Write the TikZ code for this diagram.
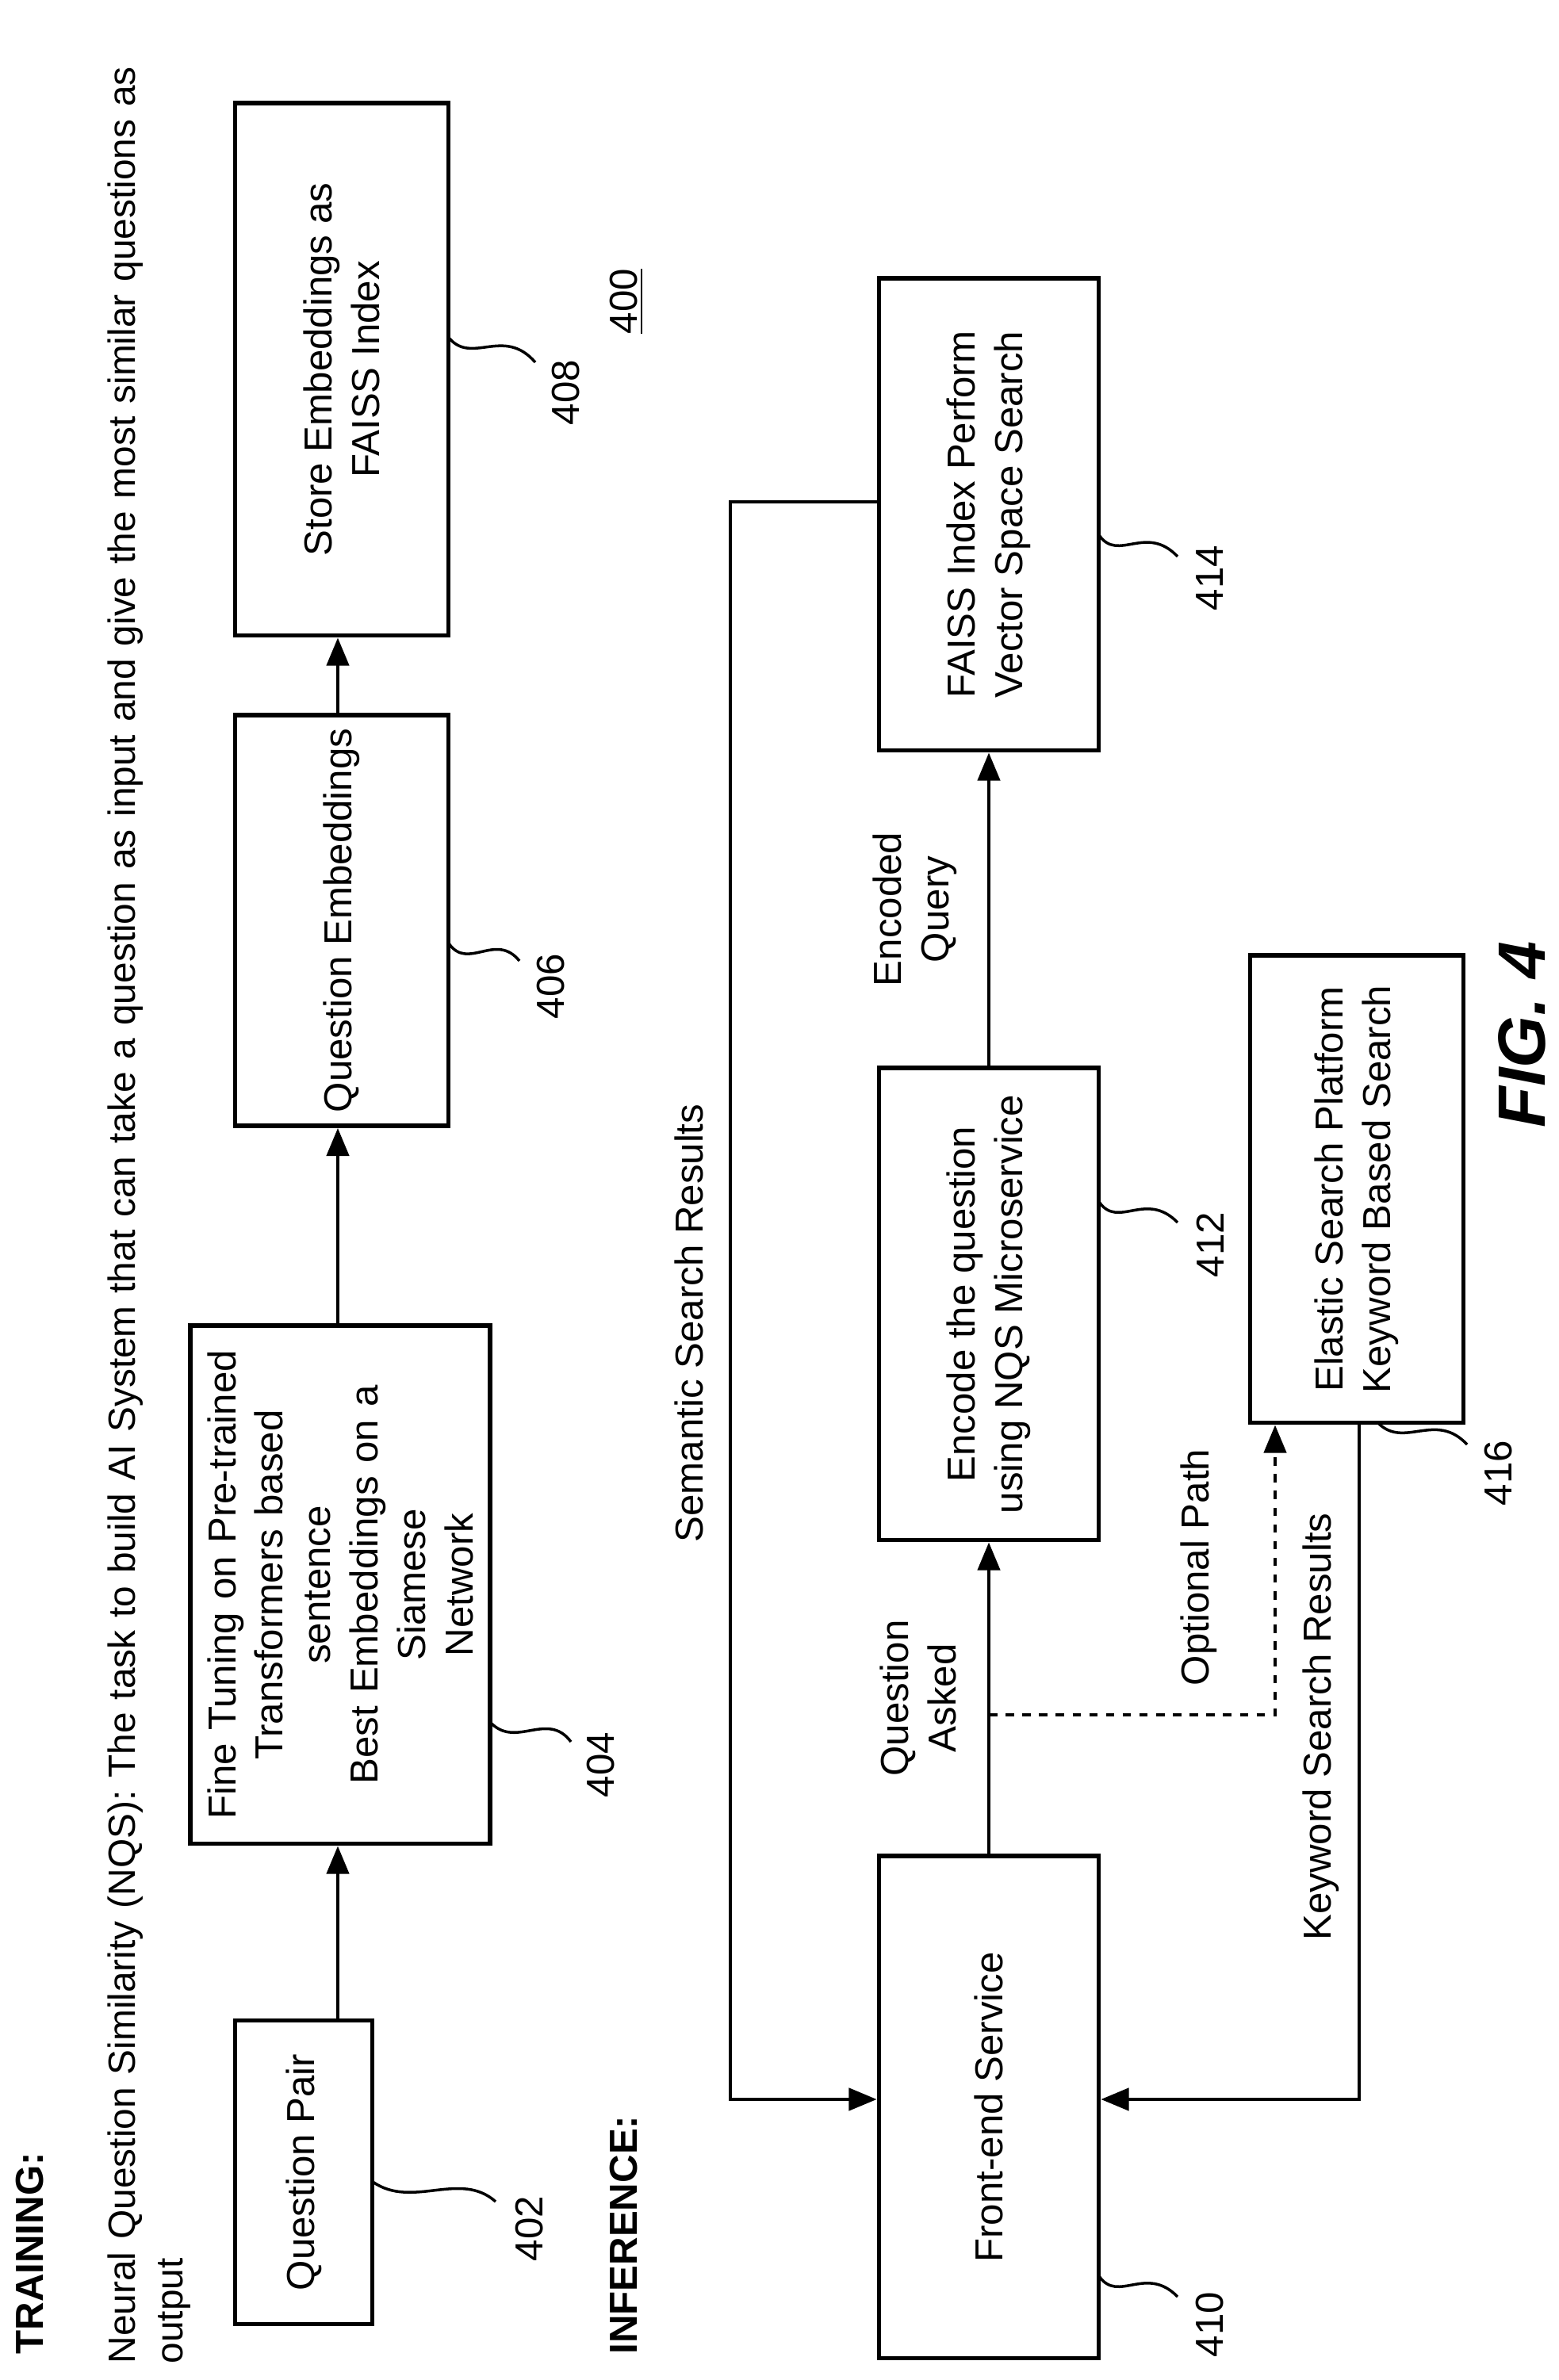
\documentclass[tikz,border=0pt]{standalone}
\usepackage{fontspec}
\setmainfont{Liberation Sans}
\usepackage{tikz}
\usetikzlibrary{arrows.meta,positioning}

\tikzset{
  blk/.style={draw, line width=1.6pt, align=center, inner sep=2pt},
  flow/.style={-{Triangle[length=10pt,width=8pt]}, line width=1.2pt},
  refl/.style={line width=1pt},
  lbl/.style={align=center, inner sep=1pt}
}

\begin{document}
\begin{tikzpicture}[x=0.01cm, y=0.01cm, rotate=90, transform shape, font=\fontsize{14}{17}\selectfont]
  \useasboundingbox (0,0) rectangle (3002,-1965);

  % training
  \node[font=\fontsize{14}{17}\selectfont\bfseries, anchor=west] (train) at (20,-38) {TRAINING:};
  \node[anchor=north west, align=left, text width=29.8cm, inner sep=0pt,
        font=\fontsize{13.6}{17}\selectfont] (task) at (20,-135)
    {Neural Question Similarity (NQS): The task to build AI System that can take a question as input and give the most similar questions as\\output};

  \node[blk, minimum width=3.83cm, minimum height=1.73cm] (pair) at (262,-383) {Question Pair};
  \node[blk, minimum width=6.53cm, minimum height=3.78cm, text width=6.3cm] (tune) at (1003,-429)
    {Fine Tuning on Pre-trained Transformers based\\sentence\\Best Embeddings on a\\Siamese\\Network};
  \node[blk, minimum width=5.18cm, minimum height=2.69cm] (qemb) at (1841,-431) {Question Embeddings};
  \node[blk, minimum width=6.71cm, minimum height=2.69cm] (store) at (2536,-431) {Store Embeddings as\\FAISS Index};

  \draw[flow] (pair.east |- 0,-426) -- (tune.west |- 0,-426);
  \draw[flow] (tune.east |- 0,-426) -- (qemb.west |- 0,-426);
  \draw[flow] (qemb.east |- 0,-426) -- (store.west |- 0,-426);

  % inference
  \node[font=\fontsize{14}{17}\selectfont\bfseries, anchor=west] (infer) at (20,-787) {INFERENCE:};
  \node[lbl] (fig) at (2622,-790) {\underline{400}};

  \node[blk, minimum width=6.33cm, minimum height=2.77cm] (front) at (344,-1247) {Front-end Service};
  \node[blk, minimum width=5.95cm, minimum height=2.77cm] (enc) at (1357,-1247) {Encode the question\\using NQS Microservice};
  \node[blk, minimum width=5.95cm, minimum height=2.77cm] (faiss) at (2353,-1247) {FAISS Index Perform\\Vector Space Search};
  \node[blk, minimum width=5.89cm, minimum height=2.69cm] (elastic) at (1502,-1711) {Elastic Search Platform\\Keyword Based Search};

  \draw[flow] (front) -- (enc) node[lbl, midway, above=10pt] (qask) {Question\\Asked};
  \draw[flow] (enc) -- (faiss) node[lbl, midway, above=10pt] (encq) {Encoded\\Query};

  \coordinate (split) at (839,-1247);
  \coordinate (optbend) at (839,-1608);
  \draw[flow, dashed] (split) -- (optbend) -- (elastic.west |- optbend);
  \node[lbl] (opt) at (1025,-1512) {Optional Path};

  \coordinate (kwbend) at (354,-1714);
  \draw[flow] (elastic.west |- kwbend) -- (kwbend) -- (kwbend |- front.south);
  \node[lbl] (kw) at (824,-1666) {Keyword Search Results};

  \coordinate (semtop) at (2369,-921);
  \coordinate (sembot) at (354,-921);
  \draw[flow] (semtop |- faiss.north) -- (semtop) -- (sembot) -- (sembot |- front.north);
  \node[lbl] (sem) at (1333,-869) {Semantic Search Results};

  % reference numerals
  \draw[refl] (250,-470) .. controls (215,-520) and (265,-580) .. (225,-625);
  \node (n402) at (191,-668) {402};
  \draw[refl] (830,-618) .. controls (795,-650) and (845,-690) .. (805,-720);
  \node (n404) at (776,-758) {404};
  \draw[refl] (1812,-566) .. controls (1777,-590) and (1827,-625) .. (1790,-655);
  \node (n406) at (1758,-695) {406};
  \draw[refl] (2576,-566) .. controls (2541,-595) and (2591,-635) .. (2545,-675);
  \node (n408) at (2507,-714) {408};
  \draw[refl] (131,-1386) .. controls (96,-1410) and (146,-1445) .. (105,-1485);
  \node (n410) at (70,-1526) {410};
  \draw[refl] (1486,-1386) .. controls (1451,-1410) and (1501,-1445) .. (1460,-1485);
  \node (n412) at (1432,-1526) {412};
  \draw[refl] (2327,-1386) .. controls (2292,-1410) and (2342,-1445) .. (2300,-1485);
  \node (n414) at (2273,-1526) {414};
  \draw[refl] (1208,-1737) .. controls (1173,-1770) and (1223,-1810) .. (1180,-1850);
  \node (n416) at (1144,-1890) {416};

  \node[font=\fontsize{24}{28}\selectfont\bfseries\itshape] (figl) at (1697,-1919) {FIG. 4};
\end{tikzpicture}
\end{document}
